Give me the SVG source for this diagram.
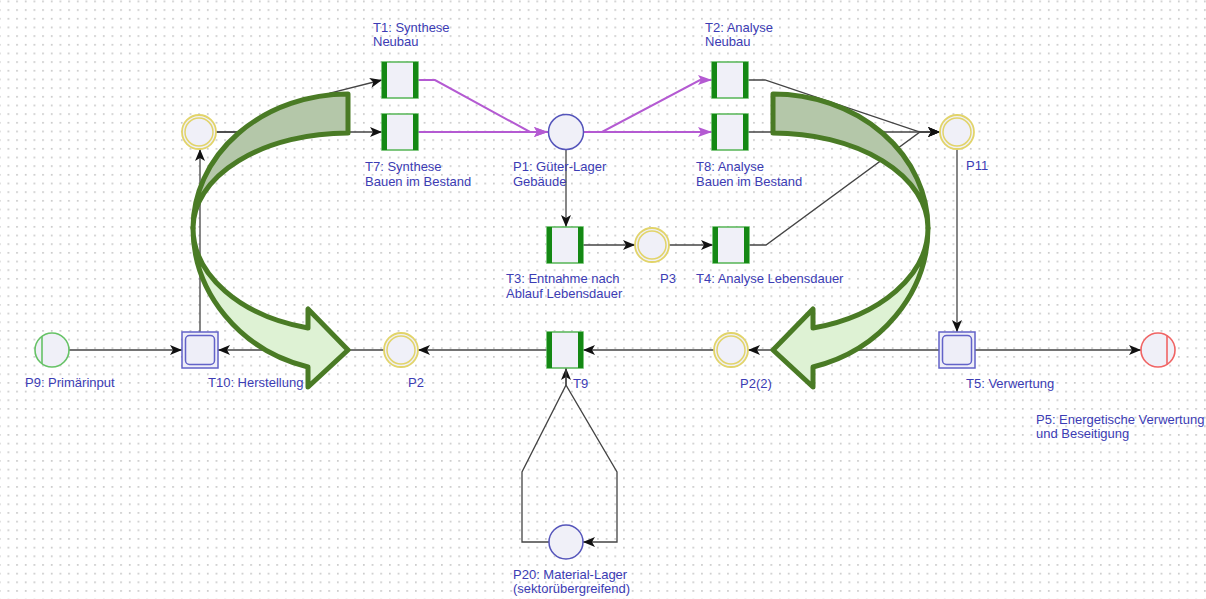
<svg xmlns="http://www.w3.org/2000/svg" width="1206" height="599" viewBox="0 0 1206 599">
<style>
.lbl{font-family:"Liberation Sans",Arial,sans-serif;font-size:13px;fill:#3c3cb4}
.tr{fill:#f0f0f8;stroke:#55b555;stroke-width:1.5}
.bar{stroke:#148814;stroke-width:5;fill:none}
.py{fill:#f0f0f8;stroke:#e2d46a;stroke-width:1.8}
.pyi{fill:none;stroke:#e2d46a;stroke-width:1.5}
.pb{fill:#f0f0f8;stroke:#5555bb;stroke-width:1.5}
.tb{fill:#eeeef8;stroke:#6262c8;stroke-width:1.5}
.e{fill:none;stroke:#444;stroke-width:1.3;marker-end:url(#ah)}
.ep{fill:none;stroke:#b45ad2;stroke-width:2;marker-end:url(#ahp)}
.big{stroke:#4a7b25;stroke-width:5;stroke-linejoin:round}
</style>
<defs>
<pattern id="grid" width="8.67" height="8.67" patternUnits="userSpaceOnUse" x="7.5" y="9.2">
<rect width="1.7" height="1.7" fill="#c9c9c9"/>
</pattern>
<marker id="ah" markerUnits="userSpaceOnUse" markerWidth="12" markerHeight="10" refX="12" refY="5" orient="auto">
<path d="M0,0 L12,5 L0,10 L3,5 z" fill="#111"/>
</marker>
<marker id="ahp" markerUnits="userSpaceOnUse" markerWidth="14" markerHeight="10" refX="14" refY="5" orient="auto">
<path d="M0,0 L14,5 L0,10 L3,5 z" fill="#b45ad2"/>
</marker>
</defs>
<rect width="1206" height="599" fill="#ffffff"/>
<rect width="1206" height="599" fill="url(#grid)"/>

<g id="connectors">
<path class="e" d="M216 132 H260 L330 93 L382 80"/>
<path class="e" d="M216 132 H382"/>
<path class="e" d="M200 332 V149"/>
<path class="e" d="M69 350 H182"/>
<path class="e" d="M384 350 H218"/>
<path class="e" d="M547 350 H418"/>
<path class="e" d="M714 350 H583"/>
<path class="e" d="M939 350 H748"/>
<path class="e" d="M975 350 H1141"/>
<path class="e" d="M957 149 V332"/>
<path class="e" d="M566 150 V227"/>
<path class="e" d="M583 245 H635"/>
<path class="e" d="M669 245 H713"/>
<path class="e" d="M748 80 H765 L920 132 H940"/>
<path class="e" d="M748 132 H940"/>
<path class="e" d="M749 245 H766 L920 132 H940"/>
<path class="e" d="M549 542 H522 V472 L566 385 V368"/>
<path class="e" d="M566 368 V385 L617 472 V542 H583"/>
<path class="ep" d="M418 80 H435 L530 132 H548"/>
<path class="ep" d="M418 132 H548"/>
<path class="ep" d="M584 132 H602 L700 80 H712"/>
<path class="ep" d="M584 132 H712"/>
</g>

<g id="T1"><rect class="tr" x="382" y="62" width="36" height="36"/><path class="bar" d="M384.5 62V98M415.5 62V98"/><text class="lbl" x="373" y="32">T1: Synthese</text><text class="lbl" x="373" y="46">Neubau</text></g>
<g id="T7"><rect class="tr" x="382" y="114" width="36" height="36"/><path class="bar" d="M384.5 114V150M415.5 114V150"/><text class="lbl" x="365" y="171">T7: Synthese</text><text class="lbl" x="365" y="186">Bauen im Bestand</text></g>
<g id="T2"><rect class="tr" x="712" y="62" width="36" height="36"/><path class="bar" d="M714.5 62V98M745.5 62V98"/><text class="lbl" x="705" y="32">T2: Analyse</text><text class="lbl" x="705" y="46">Neubau</text></g>
<g id="T8"><rect class="tr" x="712" y="114" width="36" height="36"/><path class="bar" d="M714.5 114V150M745.5 114V150"/><text class="lbl" x="696" y="171">T8: Analyse</text><text class="lbl" x="696" y="186">Bauen im Bestand</text></g>
<g id="T3"><rect class="tr" x="547" y="227" width="36" height="36"/><path class="bar" d="M549.5 227V263M580.5 227V263"/><text class="lbl" x="506" y="283">T3: Entnahme nach</text><text class="lbl" x="506" y="298">Ablauf Lebensdauer</text></g>
<g id="T4"><rect class="tr" x="713" y="227" width="36" height="36"/><path class="bar" d="M715.5 227V263M746.5 227V263"/><text class="lbl" x="696" y="283">T4: Analyse Lebensdauer</text></g>
<g id="T9"><rect class="tr" x="547" y="332" width="36" height="36"/><path class="bar" d="M549.5 332V368M580.5 332V368"/><text class="lbl" x="573" y="388">T9</text></g>
<g id="T10"><rect class="tb" x="182" y="332" width="36" height="36"/><rect class="tb" x="185.5" y="335.5" width="29" height="29" rx="4"/><text class="lbl" x="208" y="387">T10: Herstellung</text></g>
<g id="T5"><rect class="tb" x="939" y="332" width="36" height="36"/><rect class="tb" x="942.5" y="335.5" width="29" height="29" rx="4"/><text class="lbl" x="966" y="388">T5: Verwertung</text></g>

<g id="P0"><circle class="py" cx="199" cy="132" r="17"/><circle class="pyi" cx="199" cy="132" r="14"/></g>
<g id="P1"><circle class="pb" cx="566" cy="132" r="17.5"/><text class="lbl" x="513" y="171">P1: Güter-Lager</text><text class="lbl" x="513" y="186">Gebäude</text></g>
<g id="P11"><circle class="py" cx="957" cy="132" r="17"/><circle class="pyi" cx="957" cy="132" r="14"/><text class="lbl" x="966" y="170">P11</text></g>
<g id="P3"><circle class="py" cx="652" cy="245" r="17"/><circle class="pyi" cx="652" cy="245" r="14"/><text class="lbl" x="660" y="283">P3</text></g>
<g id="P2"><circle class="py" cx="401" cy="350" r="17"/><circle class="pyi" cx="401" cy="350" r="14"/><text class="lbl" x="408" y="387">P2</text></g>
<g id="P2_2"><circle class="py" cx="731" cy="350" r="17"/><circle class="pyi" cx="731" cy="350" r="14"/><text class="lbl" x="740" y="388">P2(2)</text></g>
<g id="P9"><circle cx="52" cy="350" r="17" fill="#f0f0f8" stroke="#66c266" stroke-width="1.6"/><path d="M42 336.3V363.7" stroke="#66c266" stroke-width="1.6"/><text class="lbl" x="25" y="387">P9: Primärinput</text></g>
<g id="P5"><circle cx="1158" cy="350" r="17" fill="#f0f0f8" stroke="#f06464" stroke-width="1.6"/><path d="M1167 335.6V364.4" stroke="#f06464" stroke-width="1.6"/><text class="lbl" x="1036" y="424">P5: Energetische Verwertung</text><text class="lbl" x="1036" y="438">und Beseitigung</text></g>
<g id="P20"><circle class="pb" cx="566" cy="542" r="17"/><text class="lbl" x="513" y="579">P20: Material-Lager</text><text class="lbl" x="513" y="593">(sektorübergreifend)</text></g>

<g id="arrow-left">
<path class="big" fill="#b4c7a9" d="M348 94 A155 134 0 0 0 193 228 A155 95 0 0 1 348 133 Z"/>
<path class="big" fill="#def2d4" d="M193 228 A155 144 0 0 0 308 367 L308 387 L348 350 L308 309 L308 328 A155 103.5 0 0 1 193 228 Z"/>
</g>
<g id="arrow-right" transform="translate(1121 0) scale(-1 1)">
<path class="big" fill="#b4c7a9" d="M348 94 A155 134 0 0 0 193 228 A155 95 0 0 1 348 133 Z"/>
<path class="big" fill="#def2d4" d="M193 228 A155 144 0 0 0 308 367 L308 387 L348 350 L308 309 L308 328 A155 103.5 0 0 1 193 228 Z"/>
</g>
</svg>
